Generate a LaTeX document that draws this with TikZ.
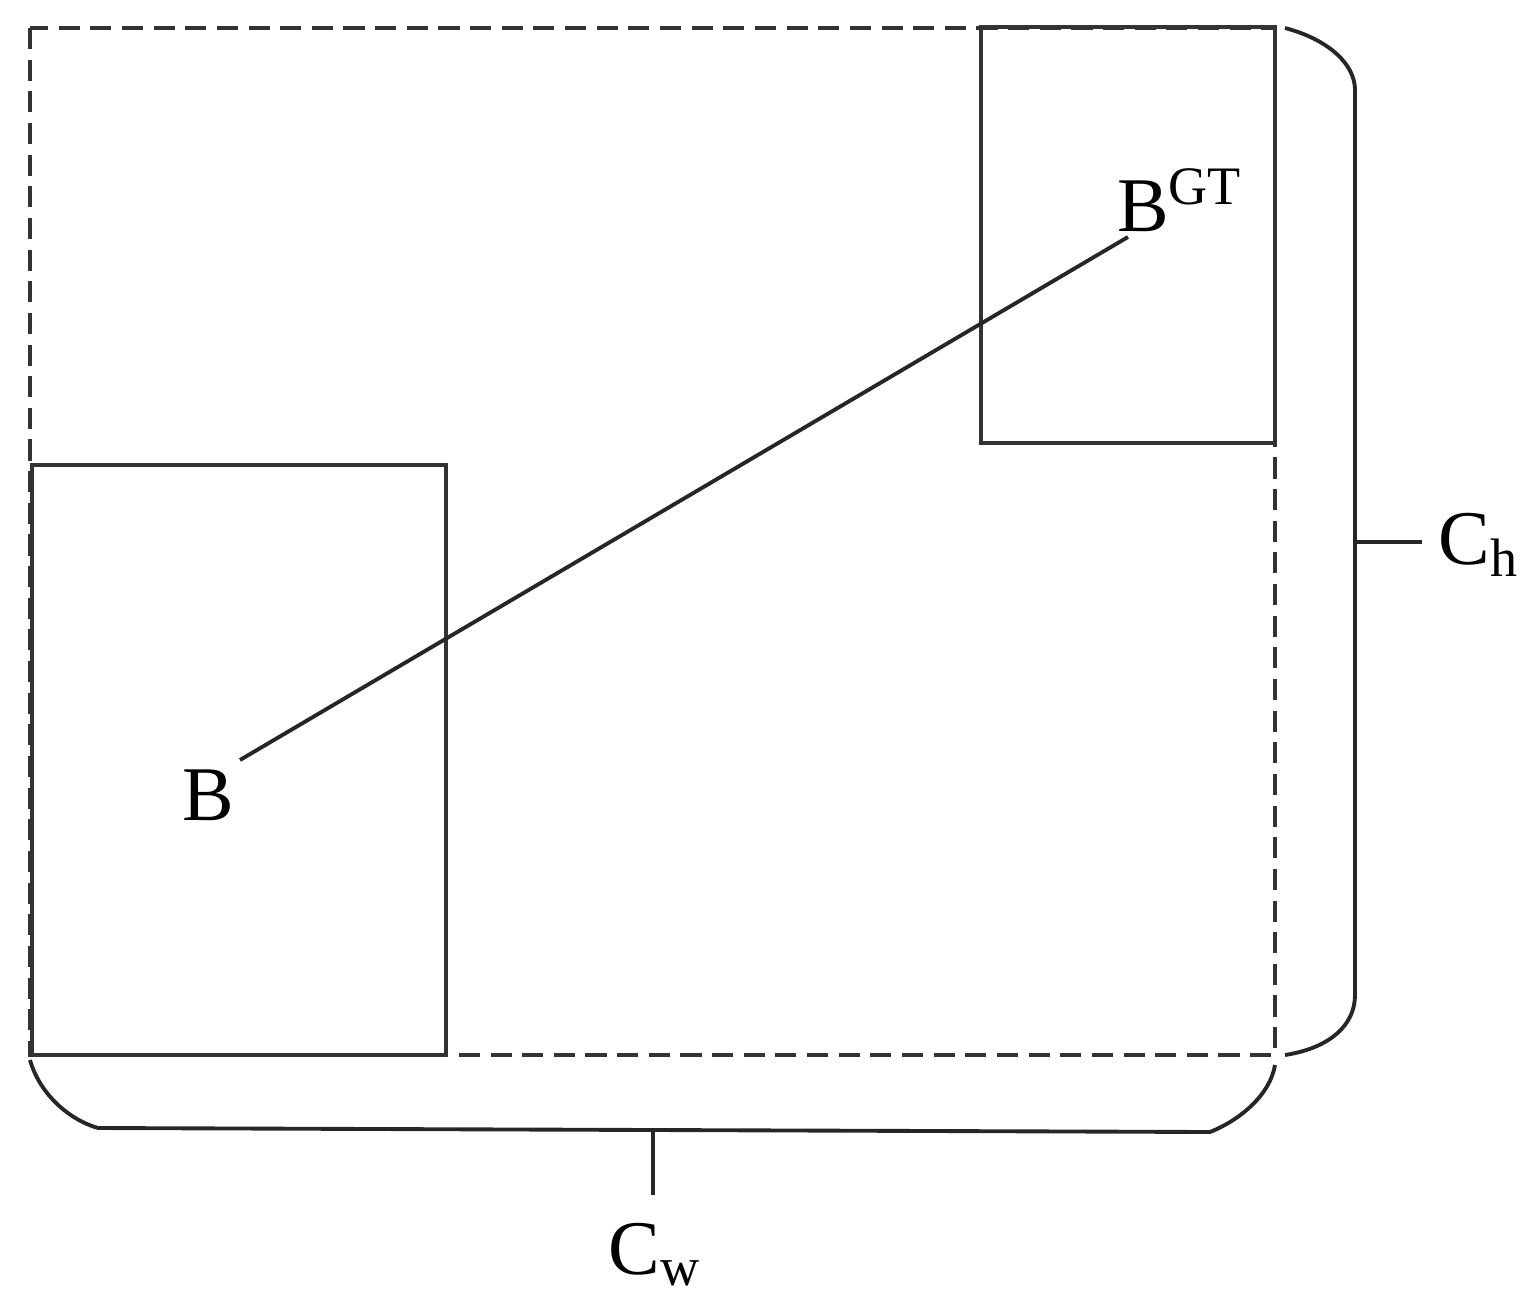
\documentclass[tikz,border=0pt]{standalone}
\usepackage{fontspec}
\setmainfont{Liberation Serif}
\begin{document}
\begin{tikzpicture}[x=0.01cm,y=-0.01cm,line width=1.1pt,
  lbl/.style={font=\fontsize{22}{26}\selectfont,inner sep=0pt}]
\useasboundingbox (0,0) rectangle (1530,1315);
\draw[dash pattern=on 6pt off 3pt,line width=1pt,draw=black!80] (30,28) rectangle (1275,1055);
\draw[draw=black!80] (32,465) rectangle (446,1055);
\draw[draw=black!80] (981,27) rectangle (1275,443);
\node[lbl] (b) at (208,795) {B};
\node[lbl] (bgt) at (1180,200) {B$^{\mathrm{\fontsize{15}{17}\selectfont GT}}$};
\coordinate (p1) at (240,760);
\coordinate (p2) at (1128,237);
\draw[draw=black!85] (p1) -- (p2);
\draw[draw=black!85] (1285,28) .. controls (1330,40) and (1355,65) .. (1355,90) -- (1355,995) .. controls (1355,1025) and (1330,1048) .. (1285,1055);
\coordinate (ct) at (1355,542);
\node[lbl,anchor=west] (ch) at (1437,545) {C$_{\mathrm{h}}$};
\draw[draw=black!85] (ct) -- (1422,542);
\draw[draw=black!85] (30,1060) .. controls (40,1095) and (70,1120) .. (98,1128) -- (1210,1132) .. controls (1240,1120) and (1270,1095) .. (1275,1065);
\coordinate (cb) at (653,1130);
\draw[draw=black!85] (cb) -- (653,1195);
\node[lbl] (cw) at (655,1255) {C$_{\mathrm{w}}$};
\end{tikzpicture}
\end{document}
